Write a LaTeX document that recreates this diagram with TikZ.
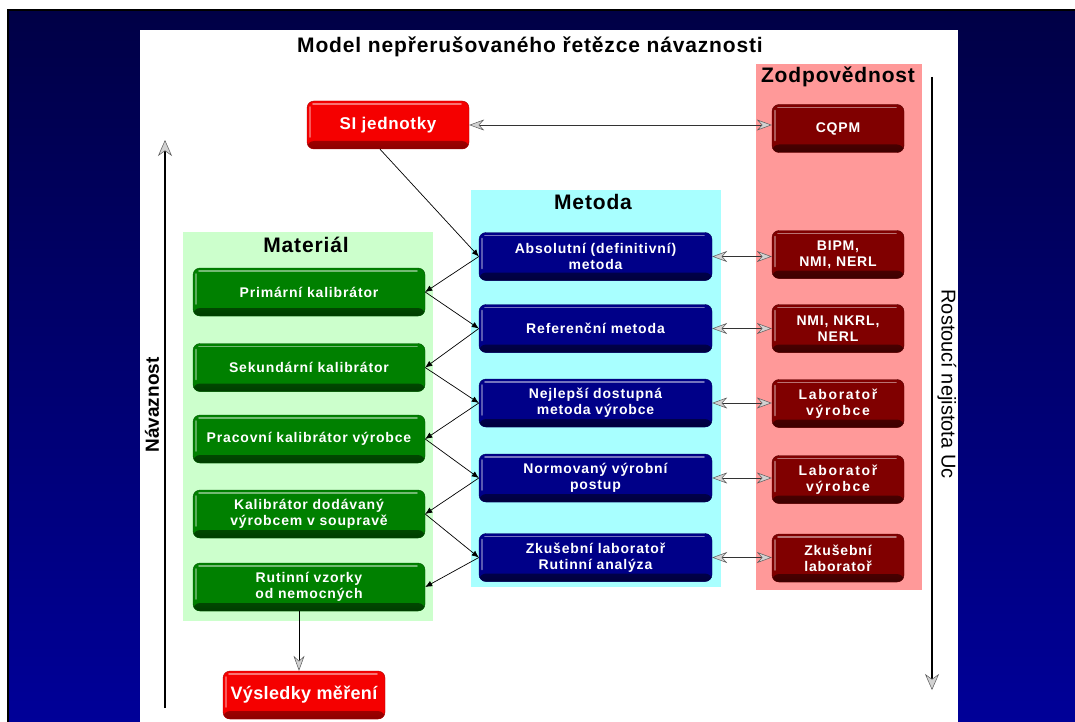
\documentclass[tikz,border=0pt]{standalone}
\usepackage{fontspec}
\setmainfont{Liberation Sans}
\usetikzlibrary{arrows.meta}
\definecolor{bgtop}{RGB}{0,0,70}
\definecolor{bgbot}{RGB}{0,0,152}
\definecolor{pgreen}{RGB}{204,255,204}
\definecolor{pcyan}{RGB}{168,255,255}
\definecolor{ppink}{RGB}{255,153,153}
\definecolor{cgreen}{RGB}{0,128,0}
\definecolor{cgreend}{RGB}{0,60,0}
\definecolor{cblue}{RGB}{0,0,136}
\definecolor{cblued}{RGB}{0,0,60}
\definecolor{cmaroon}{RGB}{128,0,0}
\definecolor{cmaroond}{RGB}{60,0,0}
\definecolor{cred}{RGB}{245,0,0}
\definecolor{credd}{RGB}{140,0,0}
\newcommand{\boxfont}{\fontsize{14}{16}\selectfont\bfseries\addfontfeature{LetterSpace=6}}
\newcommand{\widefont}{\fontsize{14}{16}\selectfont\bfseries\addfontfeature{LetterSpace=12}}
\newcommand{\headfont}{\fontsize{21}{24}\selectfont\bfseries\addfontfeature{LetterSpace=4}}
\tikzset{
  ghead/.tip={Stealth[length=15pt, width=11pt, inset=5pt, fill=gray!35, color=gray!70!black, line width=0.5pt]},
  bighead/.tip={Stealth[length=16pt, width=14pt, inset=5pt, fill=gray!35, color=gray!70!black, line width=0.5pt]},
  bhead/.tip={Latex[length=7pt, width=6pt]}
}
\begin{document}
\begin{tikzpicture}[x=1pt,y=-1pt,
  box/.style={rounded corners=7pt, minimum height=48pt, text=white, font=\boxfont,
    align=center, inner sep=2pt, draw=#1!70!black, line width=0.4pt},
  shade3d/.style 2 args={path picture={
    \shade[top color=#1, bottom color=#2] ([yshift=8pt]path picture bounding box.south west) rectangle (path picture bounding box.south east);
    \draw[white, opacity=.45, line width=1.6pt, line cap=round] ([shift={(6pt,-3pt)}]path picture bounding box.north west) -- ([shift={(-8pt,-3pt)}]path picture bounding box.north east);
    \draw[white, opacity=.35, line width=1.6pt, line cap=round] ([shift={(3pt,-6pt)}]path picture bounding box.north west) -- ([shift={(3pt,12pt)}]path picture bounding box.south west);
  }},
  gbox/.style={box=cgreen, fill=cgreen, shade3d={cgreen}{cgreend}, minimum width=232pt},
  bbox/.style={box=cblue, fill=cblue, shade3d={cblue}{cblued}, minimum width=233pt},
  mbox/.style={box=cmaroon, fill=cmaroon, shade3d={cmaroon}{cmaroond}, minimum width=132pt},
  rbox/.style={box=cred, fill=cred, shade3d={cred}{credd}, minimum width=162pt},
  panel/.style={draw=none, inner sep=0pt, anchor=north west},
  head/.style={font=\headfont, text=black, inner sep=0pt},
  conn/.style={draw=black!80, line width=0.8pt},
  thin/.style={draw=black, line width=0.7pt},
  axis/.style={draw=black, line width=2.6pt}
]
\useasboundingbox (0,0) rectangle (1075,722);
\fill[white] (0,0) rectangle (1075,722);
\shade[top color=bgtop, bottom color=bgbot] (8,10) rectangle (1075,722);
\draw[black, line width=2pt] (8,722) -- (8,10) -- (1075,10);
\fill[white] (140,30) rectangle (958,722);

% panels
\node[panel, fill=pgreen, minimum width=250pt, minimum height=389pt] (pmat) at (183,232) {};
\node[panel, fill=pcyan, minimum width=250pt, minimum height=397pt] (pmet) at (471,190) {};
\node[panel, fill=ppink, minimum width=166pt, minimum height=526pt] (pzod) at (756,64) {};

% titles
\node[head] (title) at (530,47) {Model nepřerušovaného řetězce návaznosti};
\node[head] (hmat) at (306,245) {Materiál};
\node[head] (hmet) at (593,202) {Metoda};
\node[head] (hzod) at (838,77) {Zodpovědnost};

% red boxes
\node[rbox, font=\fontsize{17}{19}\selectfont\bfseries\addfontfeature{LetterSpace=4}] (si) at (388,125) {SI jednotky};
\node[rbox, font=\fontsize{18}{20}\selectfont\bfseries\addfontfeature{LetterSpace=2}] (vysl) at (304,695) {Výsledky měření};

% material
\node[gbox] (prim) at (309,292) {Primární kalibrátor};
\node[gbox] (sek) at (309,367.5) {Sekundární kalibrátor};
\node[gbox] (prac) at (309,439) {Pracovní kalibrátor výrobce};
\node[gbox] (kal) at (309,514) {Kalibrátor dodávaný\\výrobcem v soupravě};
\node[gbox] (rut) at (309,587) {Rutinní vzorky\\od nemocných};

% metoda
\node[bbox] (abs) at (595.5,256.5) {Absolutní (definitivní)\\metoda};
\node[bbox] (ref) at (595.5,328.5) {Referenční metoda};
\node[bbox] (nej) at (595.5,403) {Nejlepší dostupná\\metoda výrobce};
\node[bbox] (norm) at (595.5,478) {Normovaný výrobní\\postup};
\node[bbox] (zku) at (595.5,557.5) {Zkušební laboratoř\\Rutinní analýza};

% zodpovednost
\node[mbox] (cqpm) at (838,128.5) {CQPM};
\node[mbox] (bipm) at (838,254.5) {BIPM,\\NMI, NERL};
\node[mbox] (nmi) at (838,328.5) {NMI, NKRL,\\NERL};
\node[mbox, font=\widefont] (lab1) at (838,403.5) {Laboratoř\\výrobce};
\node[mbox, font=\widefont] (lab2) at (838,479.5) {Laboratoř\\výrobce};
\node[mbox] (zlab) at (838,558) {Zkušební\\laboratoř};

% axes
\coordinate (l1) at (165,708);
\coordinate (l2) at (165,140);
\coordinate (r1) at (932,77);
\coordinate (r2) at (932,690);
\draw[axis, -bighead] (l1) -- (l2);
\draw[axis, -bighead] (r1) -- (r2);
\node[rotate=90, font=\fontsize{19}{22}\selectfont\bfseries] (nav) at (152,405) {Návaznost};
\node[rotate=-90, font=\fontsize{20}{22}\selectfont] (rost) at (947,384) {Rostoucí nejistota Uc};

% grey connectors
\draw[conn, ghead-ghead] (si.east) -- (cqpm.west |- si.east);
\draw[conn, ghead-ghead] (abs.east) -- (bipm.west |- abs.east);
\draw[conn, ghead-ghead] (ref.east) -- (nmi.west);
\draw[conn, ghead-ghead] (nej.east) -- (lab1.west |- nej.east);
\draw[conn, ghead-ghead] (norm.east) -- (lab2.west |- norm.east);
\draw[conn, ghead-ghead] (zku.east) -- (zlab.west |- zku.east);
\draw[thin, -ghead] ([xshift=-10pt]rut.south) -- ([xshift=-10pt]rut.south |- vysl.north);

% black cross connectors
\draw[thin, -bhead] ([xshift=-8pt]si.south) -- (abs.west);
\draw[thin, -bhead] (abs.west) -- (prim.east);
\draw[thin, -bhead] (prim.east) -- (ref.west);
\draw[thin, -bhead] (ref.west) -- (sek.east);
\draw[thin, -bhead] (sek.east) -- (nej.west);
\draw[thin, -bhead] (nej.west) -- (prac.east);
\draw[thin, -bhead] (prac.east) -- (norm.west);
\draw[thin, -bhead] (norm.west) -- (kal.east);
\draw[thin, -bhead] (kal.east) -- (zku.west);
\draw[thin, -bhead] (zku.west) -- (rut.east);
\end{tikzpicture}
\end{document}
